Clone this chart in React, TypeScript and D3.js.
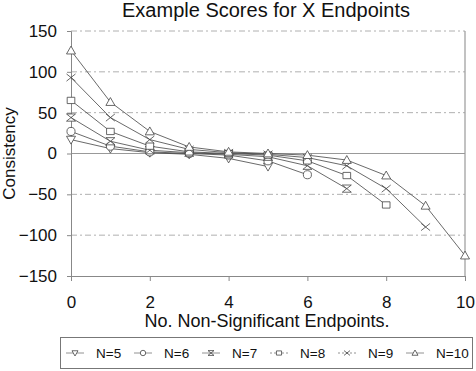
import { useEffect, useRef } from "react";
import * as d3 from "d3";

const xTicks = [0, 2, 4, 6, 8, 10];
const yTicks = [-150, -100, -50, 0, 50, 100, 150];
const seriesNames = ["N=5", "N=6", "N=7", "N=8", "N=9", "N=10"];
const symbols = ["tridown", "circle", "hourglass", "square", "cross", "triangle"];

// consistency scores at x = 0, 1, 2, ...
const n5 = [17, 6, 1, -1, -6, -16];
const n6 = [27, 9, 2, 0, -2, -9, -26];
const n7 = [44, 15, 4, 1, -1, -4, -15, -43];
const n8 = [65, 27, 9, 2, 0, -2, -9, -27, -63];
const n9 = [93, 44, 17, 5, 1, -1, -5, -15, -43, -90];
const n10 = [126, 63, 27, 8, 2, 0, -2, -8, -27, -64, -125];
const seriesValues = [n5, n6, n7, n8, n9, n10];

const FONT = "Liberation Sans, Arial, sans-serif";
const INK = "#444";

function drawMarker(g: d3.Selection<SVGGElement, unknown, null, undefined>, kind: string, x: number, y: number, r: number) {
  const p = d3.path();
  if (kind === "triangle") {
    p.moveTo(x, y - r); p.lineTo(x + r, y + r * 0.75); p.lineTo(x - r, y + r * 0.75); p.closePath();
  } else if (kind === "tridown") {
    p.moveTo(x, y + r); p.lineTo(x + r, y - r * 0.75); p.lineTo(x - r, y - r * 0.75); p.closePath();
  } else if (kind === "circle") {
    p.moveTo(x + r * 0.9, y); p.arc(x, y, r * 0.9, 0, Math.PI * 2);
  } else if (kind === "square") {
    p.rect(x - r * 0.85, y - r * 0.7, r * 1.7, r * 1.4);
  } else if (kind === "hourglass") {
    p.moveTo(x - r, y - r * 0.8); p.lineTo(x + r, y - r * 0.8); p.lineTo(x - r, y + r * 0.8); p.lineTo(x + r, y + r * 0.8); p.closePath();
  } else if (kind === "cross") {
    p.moveTo(x - r, y - r * 0.8); p.lineTo(x + r, y + r * 0.8);
    p.moveTo(x + r, y - r * 0.8); p.lineTo(x - r, y + r * 0.8);
  }
  g.append("path")
    .attr("d", p.toString())
    .attr("fill", kind === "cross" ? "none" : "white")
    .attr("stroke", INK)
    .attr("stroke-width", 0.8);
}

export default function App() {
  const ref = useRef<SVGSVGElement | null>(null);

  useEffect(() => {
    const svg = d3.select(ref.current);
    svg.selectAll("*").remove();

    const x = d3.scaleLinear().domain([0, 10]).range([71, 465]);
    const y = d3.scaleLinear().domain([-150, 150]).range([276, 31]);

    // gridlines
    svg.append("g")
      .selectAll("line")
      .data(yTicks.filter((d) => d !== -150))
      .join("line")
      .attr("x1", x(0))
      .attr("x2", x(10))
      .attr("y1", (d) => y(d))
      .attr("y2", (d) => y(d))
      .attr("stroke", (d) => (d === 0 ? "#999" : "#b0b0b0"))
      .attr("stroke-width", (d) => (d === 0 ? 1.2 : 1))
      .attr("stroke-dasharray", (d) => (d === 0 ? null : "6,3,2,3"));

    // right border
    svg.append("line")
      .attr("x1", x(10)).attr("x2", x(10))
      .attr("y1", y(150)).attr("y2", y(-150))
      .attr("stroke", "#999").attr("stroke-width", 1.2);

    // y axis
    const yAxis = svg.append("g")
      .attr("transform", `translate(${x(0)},0)`)
      .call(d3.axisLeft(y).tickValues(yTicks).tickSize(4).tickFormat(d3.format("d")));
    yAxis.select(".domain").attr("stroke", "#888");
    yAxis.selectAll(".tick line").attr("stroke", "#888");
    yAxis.selectAll("text")
      .attr("font-family", FONT).attr("font-size", 17).attr("fill", "#111").attr("x", -14);

    // x axis
    const xAxis = svg.append("g")
      .attr("transform", `translate(0,${y(-150)})`)
      .call(d3.axisBottom(x).tickValues(xTicks).tickSize(5));
    xAxis.select(".domain").attr("stroke", "#888");
    xAxis.selectAll(".tick line").attr("stroke", "#888");
    xAxis.selectAll("text")
      .attr("font-family", FONT).attr("font-size", 17).attr("fill", "#111")
      .attr("y", 32).attr("dy", 0);

    // series
    const line = d3.line<number>().x((_, i) => x(i)).y((d) => y(d));
    seriesValues.forEach((vals) => {
      svg.append("path")
        .attr("d", line(vals) as string)
        .attr("fill", "none")
        .attr("stroke", INK)
        .attr("stroke-width", 0.8);
    });
    seriesValues.forEach((vals, si) => {
      const g = svg.append("g");
      vals.forEach((v, i) => drawMarker(g, symbols[si], x(i), y(v), 4.5));
    });

    // title
    svg.append("text")
      .attr("x", 266).attr("y", 17)
      .attr("text-anchor", "middle")
      .attr("font-family", FONT).attr("font-size", 20).attr("fill", "#111")
      .text("Example Scores for X Endpoints");

    // axis titles
    svg.append("text")
      .attr("x", 267).attr("y", 327)
      .attr("text-anchor", "middle")
      .attr("font-family", FONT).attr("font-size", 18).attr("fill", "#111")
      .text("No. Non-Significant Endpoints.");
    svg.append("text")
      .attr("transform", `translate(15,${y(0)}) rotate(-90)`)
      .attr("text-anchor", "middle")
      .attr("font-family", FONT).attr("font-size", 17).attr("fill", "#111")
      .text("Consistency");

    // legend
    svg.append("rect")
      .attr("x", 60.5).attr("y", 337.5).attr("width", 412).attr("height", 31)
      .attr("fill", "white").attr("stroke", "#777").attr("stroke-width", 1);
    const legendX = d3.scaleBand<string>().domain(seriesNames).range([66, 474]);
    seriesNames.forEach((name, si) => {
      const lx = legendX(name) as number;
      const ly = 353;
      const g = svg.append("g");
      g.append("line")
        .attr("x1", lx).attr("x2", lx + 18).attr("y1", ly).attr("y2", ly)
        .attr("stroke", "#777").attr("stroke-width", 0.8)
        .attr("stroke-dasharray", si >= 3 && si <= 4 ? "2,2" : null);
      drawMarker(g, symbols[si], lx + 9, ly, 3);
      g.append("text")
        .attr("x", lx + 30).attr("y", ly + 5)
        .attr("font-family", FONT).attr("font-size", 13.5).attr("fill", "#111")
        .text(name);
    });
  }, []);

  return (
    <svg
      ref={ref}
      width={476}
      height={371}
      style={{ position: "absolute", left: 0, top: 0, background: "white" }}
    />
  );
}
